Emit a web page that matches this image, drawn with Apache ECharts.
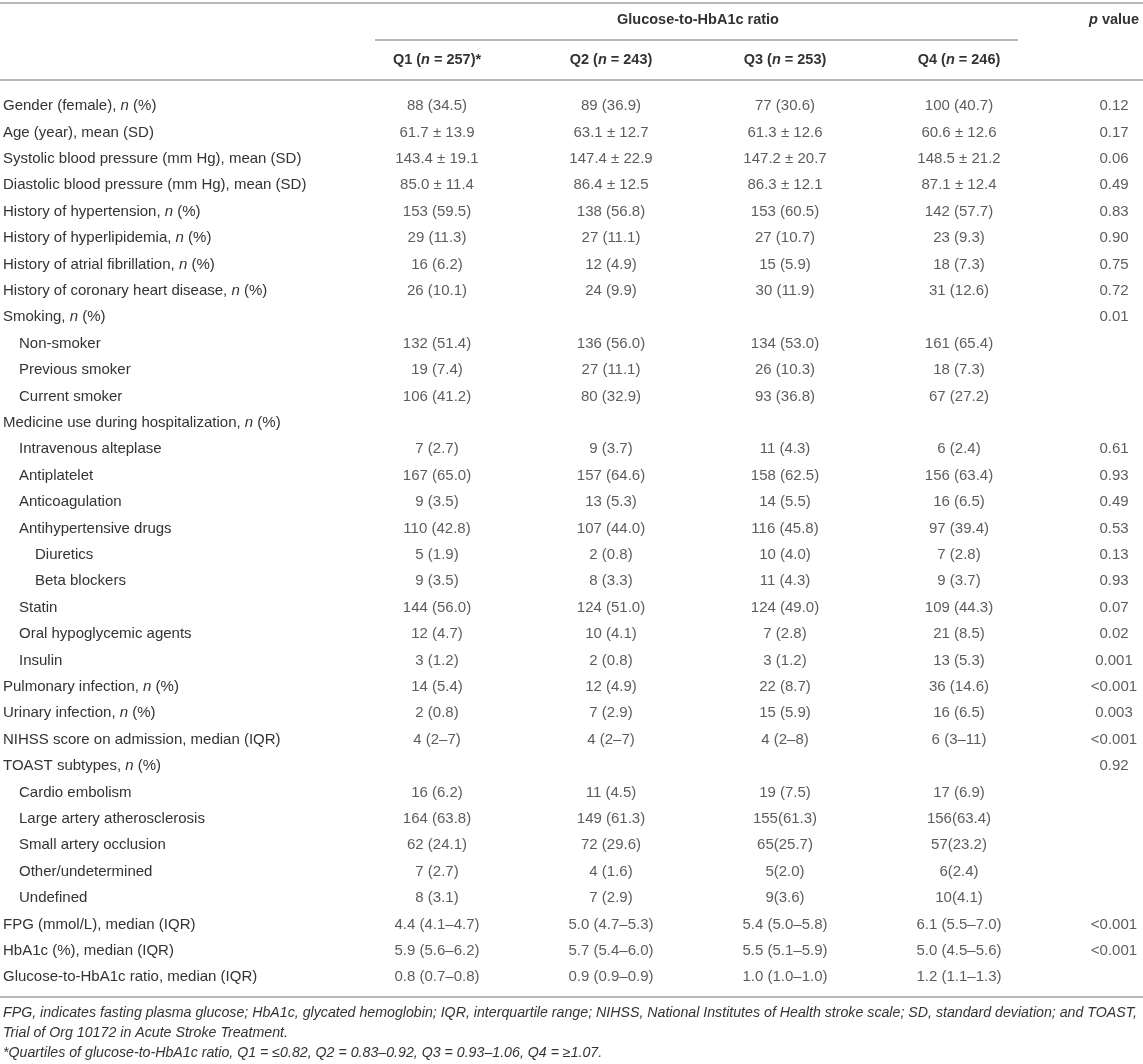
<!DOCTYPE html>
<html>
<head>
<meta charset="utf-8">
<title>Glucose-to-HbA1c ratio</title>
<script src="https://cdn.jsdelivr.net/npm/echarts@6/dist/echarts.min.js"></script>
<style>
  html, body { margin: 0; padding: 0; background: #fff; }
  #main { width: 1143px; height: 1064px; }
</style>
</head>
<body>
<div id="main"></div>
<script>
// 行标题
const rowLabels = [
  'Gender (female), n (%)',
  'Age (year), mean (SD)',
  'Systolic blood pressure (mm Hg), mean (SD)',
  'Diastolic blood pressure (mm Hg), mean (SD)',
  'History of hypertension, n (%)',
  'History of hyperlipidemia, n (%)',
  'History of atrial fibrillation, n (%)',
  'History of coronary heart disease, n (%)',
  'Smoking, n (%)',
  'Non-smoker',
  'Previous smoker',
  'Current smoker',
  'Medicine use during hospitalization, n (%)',
  'Intravenous alteplase',
  'Antiplatelet',
  'Anticoagulation',
  'Antihypertensive drugs',
  'Diuretics',
  'Beta blockers',
  'Statin',
  'Oral hypoglycemic agents',
  'Insulin',
  'Pulmonary infection, n (%)',
  'Urinary infection, n (%)',
  'NIHSS score on admission, median (IQR)',
  'TOAST subtypes, n (%)',
  'Cardio embolism',
  'Large artery atherosclerosis',
  'Small artery occlusion',
  'Other/undetermined',
  'Undefined',
  'FPG (mmol/L), median (IQR)',
  'HbA1c (%), median (IQR)',
  'Glucose-to-HbA1c ratio, median (IQR)'
];
// 缩进层级
const rowLevels = [0,0,0,0,0,0,0,0,0,1,1,1,0,1,1,1,1,2,2,1,1,1,0,0,0,0,1,1,1,1,1,0,0,0];

const groupTitle = 'Glucose-to-HbA1c ratio';
const colHeaders = ['Q1 (n = 257)*', 'Q2 (n = 243)', 'Q3 (n = 253)', 'Q4 (n = 246)'];
const pHeader = 'p value';

const q1Cells = ['88 (34.5)', '61.7 ± 13.9', '143.4 ± 19.1', '85.0 ± 11.4', '153 (59.5)', '29 (11.3)', '16 (6.2)', '26 (10.1)', '',
  '132 (51.4)', '19 (7.4)', '106 (41.2)', '', '7 (2.7)', '167 (65.0)', '9 (3.5)', '110 (42.8)', '5 (1.9)', '9 (3.5)', '144 (56.0)',
  '12 (4.7)', '3 (1.2)', '14 (5.4)', '2 (0.8)', '4 (2–7)', '', '16 (6.2)', '164 (63.8)', '62 (24.1)', '7 (2.7)', '8 (3.1)',
  '4.4 (4.1–4.7)', '5.9 (5.6–6.2)', '0.8 (0.7–0.8)'];
const q2Cells = ['89 (36.9)', '63.1 ± 12.7', '147.4 ± 22.9', '86.4 ± 12.5', '138 (56.8)', '27 (11.1)', '12 (4.9)', '24 (9.9)', '',
  '136 (56.0)', '27 (11.1)', '80 (32.9)', '', '9 (3.7)', '157 (64.6)', '13 (5.3)', '107 (44.0)', '2 (0.8)', '8 (3.3)', '124 (51.0)',
  '10 (4.1)', '2 (0.8)', '12 (4.9)', '7 (2.9)', '4 (2–7)', '', '11 (4.5)', '149 (61.3)', '72 (29.6)', '4 (1.6)', '7 (2.9)',
  '5.0 (4.7–5.3)', '5.7 (5.4–6.0)', '0.9 (0.9–0.9)'];
const q3Cells = ['77 (30.6)', '61.3 ± 12.6', '147.2 ± 20.7', '86.3 ± 12.1', '153 (60.5)', '27 (10.7)', '15 (5.9)', '30 (11.9)', '',
  '134 (53.0)', '26 (10.3)', '93 (36.8)', '', '11 (4.3)', '158 (62.5)', '14 (5.5)', '116 (45.8)', '10 (4.0)', '11 (4.3)', '124 (49.0)',
  '7 (2.8)', '3 (1.2)', '22 (8.7)', '15 (5.9)', '4 (2–8)', '', '19 (7.5)', '155(61.3)', '65(25.7)', '5(2.0)', '9(3.6)',
  '5.4 (5.0–5.8)', '5.5 (5.1–5.9)', '1.0 (1.0–1.0)'];
const q4Cells = ['100 (40.7)', '60.6 ± 12.6', '148.5 ± 21.2', '87.1 ± 12.4', '142 (57.7)', '23 (9.3)', '18 (7.3)', '31 (12.6)', '',
  '161 (65.4)', '18 (7.3)', '67 (27.2)', '', '6 (2.4)', '156 (63.4)', '16 (6.5)', '97 (39.4)', '7 (2.8)', '9 (3.7)', '109 (44.3)',
  '21 (8.5)', '13 (5.3)', '36 (14.6)', '16 (6.5)', '6 (3–11)', '', '17 (6.9)', '156(63.4)', '57(23.2)', '6(2.4)', '10(4.1)',
  '6.1 (5.5–7.0)', '5.0 (4.5–5.6)', '1.2 (1.1–1.3)'];
const pValues = ['0.12', '0.17', '0.06', '0.49', '0.83', '0.90', '0.75', '0.72', '0.01',
  '', '', '', '', '0.61', '0.93', '0.49', '0.53', '0.13', '0.93', '0.07',
  '0.02', '0.001', '<0.001', '0.003', '<0.001', '0.92', '', '', '', '', '',
  '<0.001', '<0.001', ''];

const footnotes = [
  'FPG, indicates fasting plasma glucose; HbA1c, glycated hemoglobin; IQR, interquartile range; NIHSS, National Institutes of Health stroke scale; SD, standard deviation; and TOAST,',
  'Trial of Org 10172 in Acute Stroke Treatment.',
  '*Quartiles of glucose-to-HbA1c ratio, Q1 = ≤0.82, Q2 = 0.83–0.92, Q3 = 0.93–1.06, Q4 = ≥1.07.'
];

const FONT = '"Liberation Sans", Arial, Helvetica, sans-serif';
const TXT = '#333';
const RULE = '#b9b9b9';
const gridTop = 92.8;
const gridHeight = 897.6;

const chart = echarts.init(document.getElementById('main'), null, { renderer: 'canvas' });

// 把 "n" 改成斜体
function rowRich(label, idx) {
  const lv = 't' + rowLevels[idx];
  const parts = label.split(' n ');
  if (parts.length === 1) return '{' + lv + '|' + label + '}';
  return '{' + lv + '|' + parts[0] + ' }{it|n}{t0| ' + parts[1] + '}';
}
function headRich(h) {
  const m = h.split('(n ');
  return '{b|' + m[0] + '(}{bi|n}{b| ' + m[1] + '}';
}

function cellData(cells, col) {
  const out = [];
  cells.forEach((t, i) => {
    if (t !== '') out.push({ value: [col, i], text: t });
  });
  return out;
}

const cellLabel = {
  show: true,
  position: 'inside',
  color: TXT,
  fontSize: 15,
  fontFamily: FONT,
  formatter: p => p.data.text
};

chart.setOption({
  backgroundColor: '#ffffff',
  animation: false,
  textStyle: { fontFamily: FONT },
  grid: [
    { left: 350, width: 696, top: gridTop, height: gridHeight },
    { left: 1085, width: 58, top: gridTop, height: gridHeight }
  ],
  xAxis: [
    {
      type: 'category', gridIndex: 0, position: 'top',
      data: colHeaders,
      axisLine: { show: false }, axisTick: { show: false }, splitLine: { show: false },
      name: groupTitle, nameLocation: 'middle', nameGap: gridTop - 20,
      nameTextStyle: { fontSize: 14.5, fontWeight: 'bold', color: TXT, verticalAlign: 'middle', fontFamily: FONT },
      axisLabel: {
        margin: gridTop - 60, verticalAlign: 'middle',
        formatter: v => headRich(v),
        rich: {
          b: { fontSize: 14.5, fontWeight: 'bold', color: TXT, fontFamily: FONT },
          bi: { fontSize: 14.5, fontWeight: 'bold', fontStyle: 'italic', color: TXT, fontFamily: FONT }
        }
      }
    },
    {
      type: 'category', gridIndex: 1, position: 'top',
      data: [pHeader],
      axisLine: { show: false }, axisTick: { show: false }, splitLine: { show: false },
      axisLabel: {
        margin: gridTop - 20, verticalAlign: 'middle',
        formatter: v => '{bi|' + v.split(' ')[0] + '}{b| ' + v.split(' ')[1] + '}',
        rich: {
          b: { fontSize: 14.5, fontWeight: 'bold', color: TXT, fontFamily: FONT },
          bi: { fontSize: 14.5, fontWeight: 'bold', fontStyle: 'italic', color: TXT, fontFamily: FONT }
        }
      }
    }
  ],
  yAxis: [
    {
      type: 'category', gridIndex: 0, inverse: true,
      data: rowLabels,
      axisLine: { show: false }, axisTick: { show: false }, splitLine: { show: false },
      axisLabel: {
        align: 'left', margin: 347,
        formatter: (v, i) => rowRich(v, i),
        rich: {
          t0: { fontSize: 15, color: TXT, fontFamily: FONT },
          t1: { fontSize: 15, color: TXT, fontFamily: FONT, padding: [0, 0, 0, 16] },
          t2: { fontSize: 15, color: TXT, fontFamily: FONT, padding: [0, 0, 0, 32] },
          it: { fontSize: 15, color: TXT, fontFamily: FONT, fontStyle: 'italic' }
        }
      }
    },
    {
      type: 'category', gridIndex: 1, inverse: true, show: false,
      data: rowLabels
    }
  ],
  series: [
    { type: 'scatter', xAxisIndex: 0, yAxisIndex: 0, symbolSize: 0, silent: true, label: cellLabel, data: cellData(q1Cells, 0) },
    { type: 'scatter', xAxisIndex: 0, yAxisIndex: 0, symbolSize: 0, silent: true, label: cellLabel, data: cellData(q2Cells, 1) },
    { type: 'scatter', xAxisIndex: 0, yAxisIndex: 0, symbolSize: 0, silent: true, label: cellLabel, data: cellData(q3Cells, 2) },
    { type: 'scatter', xAxisIndex: 0, yAxisIndex: 0, symbolSize: 0, silent: true, label: cellLabel, data: cellData(q4Cells, 3) },
    { type: 'scatter', xAxisIndex: 1, yAxisIndex: 1, symbolSize: 0, silent: true, label: cellLabel, data: cellData(pValues, 0) }
  ],
  graphic: [
    // 表格横线
    { type: 'line', shape: { x1: 0, y1: 3, x2: 1143, y2: 3 }, style: { stroke: RULE, lineWidth: 2 } },
    { type: 'line', shape: { x1: 375, y1: 40, x2: 1018, y2: 40 }, style: { stroke: RULE, lineWidth: 2 } },
    { type: 'line', shape: { x1: 0, y1: 80, x2: 1143, y2: 80 }, style: { stroke: RULE, lineWidth: 2 } },
    { type: 'line', shape: { x1: 0, y1: 997, x2: 1143, y2: 997 }, style: { stroke: RULE, lineWidth: 2 } },
    // 脚注
    ...footnotes.map((t, i) => ({
      type: 'text', left: 3, top: 1006 + i * 20,
      style: { text: t, fill: TXT, font: 'italic 14.2px ' + FONT }
    }))
  ]
});
</script>
</body>
</html>
